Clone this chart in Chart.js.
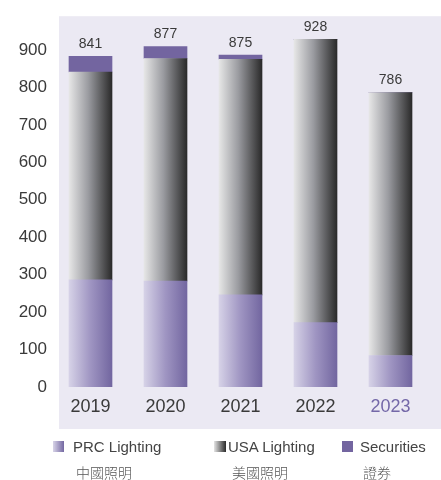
<!DOCTYPE html>
<html>
<head>
<meta charset="utf-8">
<script src="https://cdn.jsdelivr.net/npm/chart.js@4/dist/chart.umd.min.js"></script>
<style>
  body { margin: 0; background: #fff; font-family: "Liberation Sans", Arial, sans-serif; }
  #wrap { position: relative; width: 441px; height: 480px; }
  .lg { position: absolute; font-size: 15px; color: #444; white-space: nowrap; }
  .cjk { font-family: "Noto Sans CJK TC", sans-serif; font-size: 14px; font-weight: 300; color: #555; }
  .sw { position: absolute; width: 11px; height: 11px; }
</style>
</head>
<body>
<div id="wrap">
  <canvas id="chart" width="441" height="480"></canvas>
  <div class="sw" style="left:53px;top:441px;background:linear-gradient(to right,#d8d4e8,#7468a2);"></div>
  <div class="lg" style="left:73px;top:438px;">PRC Lighting</div>
  <div class="lg cjk" style="left:76px;top:462px;">中國照明</div>
  <div class="sw" style="left:214px;top:441px;width:12px;background:linear-gradient(to right,#e4e4e4,#2b2b2b);"></div>
  <div class="lg" style="left:228px;top:438px;">USA Lighting</div>
  <div class="lg cjk" style="left:232px;top:462px;">美國照明</div>
  <div class="sw" style="left:342px;top:441px;background:#7365a0;"></div>
  <div class="lg" style="left:360px;top:438px;">Securities</div>
  <div class="lg cjk" style="left:363px;top:462px;">證券</div>
</div>
<script>
// values
var years = ['2019', '2020', '2021', '2022', '2023'];
var prcLighting = [286, 283, 246, 172, 84];
var usaLighting = [555, 594, 629, 756, 702];
var securities = [42, 32, 11, 0, 0];
var yTicks = [0, 100, 200, 300, 400, 500, 600, 700, 800, 900];

var BAR_W = 43;

function barGradient(ctx, stops, fallback) {
    var chart = ctx.chart;
    if (!chart.chartArea) return fallback;
    var cx = chart.scales.x.getPixelForValue(ctx.dataIndex);
    var g = chart.ctx.createLinearGradient(cx - BAR_W / 2, 0, cx + BAR_W / 2, 0);
    stops.forEach(function (s) { g.addColorStop(s[0], s[1]); });
    return g;
}

// lavender panel behind the plot
var panelPlugin = {
    id: 'panel',
    beforeDraw: function (chart) {
        var c = chart.ctx;
        c.save();
        c.fillStyle = '#ebe9f3';
        c.fillRect(59, chart.chartArea.top, chart.width - 59, 429 - chart.chartArea.top);
        c.restore();
    }
};

// totals above each stack (PRC + USA)
var totalsPlugin = {
    id: 'totals',
    afterDatasetsDraw: function (chart) {
        var c = chart.ctx;
        c.save();
        c.font = '14px "Liberation Sans", Arial, sans-serif';
        c.fillStyle = '#3a3a3a';
        c.textAlign = 'center';
        c.textBaseline = 'middle';
        years.forEach(function (y, i) {
            var total = prcLighting[i] + usaLighting[i];
            var top = chart.scales.y.getPixelForValue(total + securities[i]);
            var x = chart.scales.x.getPixelForValue(i);
            c.fillText(String(total), x, top - 12);
        });
        c.restore();
    }
};

new Chart(document.getElementById('chart'), {
    type: 'bar',
    data: {
        labels: years,
        datasets: [{
            label: 'PRC Lighting',
            data: prcLighting,
            backgroundColor: function (ctx) {
                return barGradient(ctx, [[0, '#d6d2e7'], [0.5, '#9f95c2'], [1, '#7266a0']], '#9f95c2');
            }
        }, {
            label: 'USA Lighting',
            data: usaLighting,
            backgroundColor: function (ctx) {
                return barGradient(ctx, [[0, '#e6e6e6'], [0.45, '#9a9ba0'], [1, '#2a2a2a']], '#888');
            }
        }, {
            label: 'Securities',
            data: securities,
            backgroundColor: '#7365a0'
        }]
    },
    options: {
        responsive: false,
        animation: false,
        barThickness: BAR_W,
        layout: { padding: { top: 14, right: 13, left: 0, bottom: 0 } },
        plugins: { legend: { display: false }, tooltip: { enabled: false } },
        scales: {
            x: {
                stacked: true,
                grid: { display: false, drawTicks: false },
                border: { display: false },
                ticks: {
                    padding: 9,
                    font: { size: 18, family: '"Liberation Sans", Arial, sans-serif' },
                    color: function (ctx) { return ctx.index === 4 ? '#7468a8' : '#3a3a3a'; }
                },
                afterFit: function (scale) { scale.height = 93; }
            },
            y: {
                stacked: true,
                min: 0,
                max: 990,
                grid: { display: false, drawTicks: false },
                border: { display: false },
                ticks: {
                    padding: 6,
                    font: { size: 17, family: '"Liberation Sans", Arial, sans-serif' },
                    color: '#3a3a3a'
                },
                afterBuildTicks: function (scale) {
                    scale.ticks = yTicks.map(function (v) { return { value: v }; });
                },
                afterFit: function (scale) { scale.width = 53; }
            }
        }
    },
    plugins: [panelPlugin, totalsPlugin]
});
</script>
</body>
</html>
